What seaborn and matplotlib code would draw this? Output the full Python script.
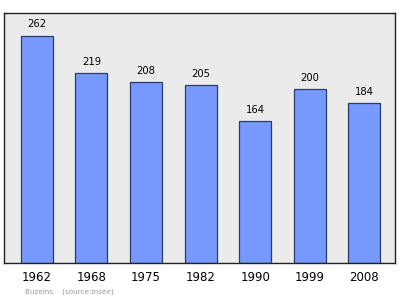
import matplotlib
matplotlib.use("Agg")
import matplotlib.pyplot as plt
import seaborn as sns
import pandas as pd

years = ["1962", "1968", "1975", "1982", "1990", "1999", "2008"]
population = [262, 219, 208, 205, 164, 200, 184]

sns.set_theme(style="white")
plt.rcParams["font.family"] = ["DejaVu Sans"]

df = pd.DataFrame({"year": years, "population": population})

fig = plt.figure(figsize=(4.0, 2.99), dpi=100)
ax = fig.add_axes([0.01, 0.1204, 0.9775, 0.8361])
ax.set_facecolor("#ebebeb")

sns.barplot(data=df, x="year", y="population", ax=ax, color="#7799ff",
            saturation=1, width=0.585, edgecolor="#2a3a6a", linewidth=0.9)

for i, v in enumerate(population):
    ax.text(i, v + 7, str(v), ha="center", va="bottom", fontsize=7.2, color="black")

ax.set_xlim(-0.6, 6.56)
ax.set_ylim(0, 288)
ax.set_yticks([])
ax.set_xlabel("")
ax.set_ylabel("")
ax.tick_params(axis="x", length=0, labelsize=8.5, pad=6, colors="black")
for s in ax.spines.values():
    s.set_visible(True)
    s.set_color("#222222")
    s.set_linewidth(1.0)

fig.text(0.0625, 0.018, "Buzeins    (source:Insee)", fontsize=5.2, color="#999999")

fig.savefig("out.png", dpi=100)
